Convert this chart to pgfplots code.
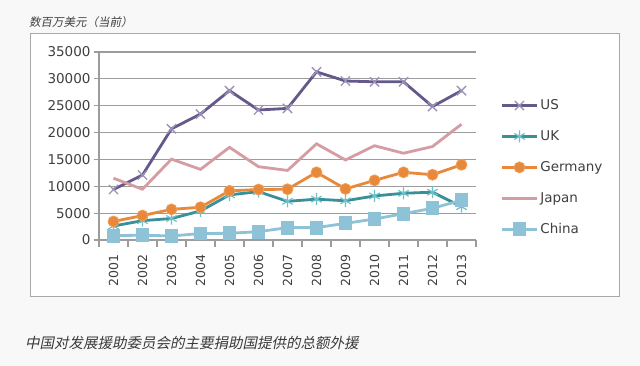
\documentclass[border=0pt]{standalone}
\usepackage{fontspec}
\setmainfont{DejaVu Sans}
\newfontfamily\cjk[FakeSlant=0.2]{Noto Sans CJK SC}
\usepackage{pgfplots}
\pgfplotsset{compat=1.18}
\definecolor{cUS}{HTML}{65588A}
\definecolor{cUSm}{HTML}{9C92B8}
\definecolor{cUK}{HTML}{3A9098}
\definecolor{cUKm}{HTML}{6FC0C8}
\definecolor{cDE}{HTML}{E8883A}
\definecolor{cDEm}{HTML}{F0A05A}
\definecolor{cJP}{HTML}{D69CA4}
\definecolor{cCN}{HTML}{8EC2D6}
\definecolor{gridc}{HTML}{9C9C9C}
\definecolor{boxc}{HTML}{A8A8A8}
\definecolor{bgc}{HTML}{F8F8F8}
\definecolor{txt}{HTML}{404040}
\begin{document}
\begin{tikzpicture}[x=1pt,y=1pt]
\useasboundingbox (0,0) rectangle (640,366);
\fill[bgc] (0,0) rectangle (640,366);
\draw[boxc, line width=1pt, fill=white] (30,69) rectangle (619,332);
\node[anchor=west, inner sep=0pt, text=txt, font=\cjk\fontsize{11.5}{13}\selectfont] at (29,344) {数百万美元（当前）};
\node[anchor=west, inner sep=0pt, text=txt!90!black, font=\cjk\fontsize{14.5}{17}\selectfont] at (25,23) {中国对发展援助委员会的主要捐助国提供的总额外援};
\begin{axis}[
  at={(99pt,126pt)}, anchor=south west, scale only axis,
  width=377pt, height=188pt,
  xmin=0.5, xmax=13.5, ymin=0, ymax=35000,
  axis x line*=bottom, axis y line*=left,
  axis line style={gridc, line width=1.2pt, -},
  tick align=outside,
  xtick={1,...,13},
  xticklabels={2001,2002,2003,2004,2005,2006,2007,2008,2009,2010,2011,2012,2013},
  minor xtick={0.5,1.5,...,13.5},
  major x tick style={draw=none},
  minor x tick style={gridc, line width=1.2pt},
  minor tick length=7pt,
  major tick length=5pt,
  y tick style={gridc, line width=1.2pt},
  ytick={0,5000,...,35000},
  scaled y ticks=false,
  /pgf/number format/.cd, 1000 sep={}, fixed, assume math mode=true,
  /pgfplots/.cd,
  ymajorgrids, grid style={gridc, line width=1.2pt},
  xticklabel shift=6pt,
  xticklabel style={rotate=90, anchor=east, font=\fontsize{12.5}{15}\selectfont, text=txt},
  yticklabel style={font=\fontsize{13.5}{15}\selectfont, text=txt},
  legend style={at={(1.066,0.755)}, anchor=north west, draw=none, fill=none,
    font=\fontsize{13.5}{15}\selectfont, text=txt, row sep=16.5pt, inner sep=0pt,
    nodes={inner sep=1.5pt}},
  legend cell align=left,
  legend image code/.code={\draw[mark repeat=2,mark phase=2,#1] plot coordinates {(0pt,0pt)(17pt,0pt)(35pt,0pt)};},
  clip=false,
]
\addplot[cUS, line width=2.8pt, mark=x, mark size=6.5pt, mark options={cUSm, line width=1.4pt}] coordinates {
(1,9400) (2,12100) (3,20700) (4,23450) (5,27800) (6,24200) (7,24500) (8,31300) (9,29600) (10,29450) (11,29450) (12,24850) (13,27800)};
\addlegendentry{US}
\addplot[cUK, line width=2.8pt, mark=asterisk, mark size=6pt, mark options={cUKm, line width=1.2pt}] coordinates {
(1,2600) (2,3600) (3,4000) (4,5400) (5,8400) (6,9000) (7,7200) (8,7600) (9,7300) (10,8200) (11,8700) (12,8900) (13,6200)};
\addlegendentry{UK}
\addplot[cDE, line width=2.8pt, mark=*, mark size=5.5pt, mark options={fill=cDE, draw=cDEm, line width=0.8pt}] coordinates {
(1,3450) (2,4550) (3,5700) (4,6100) (5,9150) (6,9400) (7,9450) (8,12600) (9,9500) (10,11100) (11,12600) (12,12150) (13,14000)};
\addlegendentry{Germany}
\addplot[cJP, line width=2.8pt] coordinates {
(1,11500) (2,9450) (3,15050) (4,13150) (5,17250) (6,13650) (7,12950) (8,17900) (9,14900) (10,17550) (11,16150) (12,17400) (13,21550)};
\addlegendentry{Japan}
\addplot[cCN, line width=2.8pt, mark=square*, mark size=5.5pt, mark options={fill=cCN, draw=cCN}] coordinates {
(1,800) (2,900) (3,750) (4,1200) (5,1250) (6,1550) (7,2300) (8,2300) (9,3100) (10,3900) (11,4900) (12,5900) (13,7400)};
\addlegendentry{China}
\end{axis}
\end{tikzpicture}
\end{document}
